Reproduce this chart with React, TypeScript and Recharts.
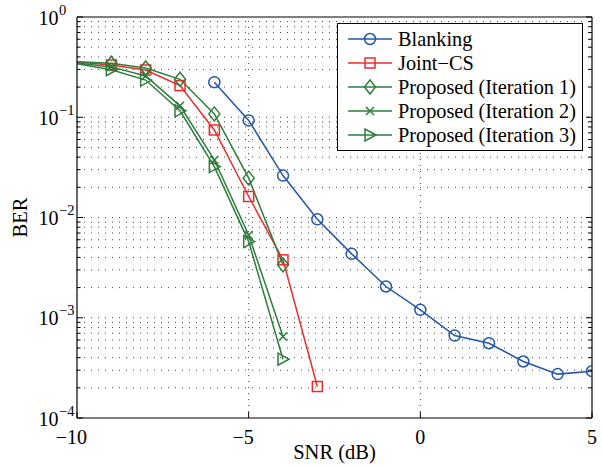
import { LineChart, Line, XAxis, YAxis, ReferenceLine, Legend, Label } from 'recharts'

const FONT = "'Liberation Serif', 'DejaVu Serif', 'Times New Roman', serif"
const BLUE = '#2456a8'
const RED = '#f02a2a'
const GREEN = '#2e7d3b'

// SNR (dB) points of each curve (the -11 points sit just outside the axis and get clipped)
const snrBlanking = [-6, -5, -4, -3, -2, -1, 0, 1, 2, 3, 4, 5]
const snrJoint = [-11, -9, -8, -7, -6, -5, -4, -3]
const snrProposed = [-11, -9, -8, -7, -6, -5, -4]

// BER values
const berBlanking = [0.224, 0.093, 0.0262, 0.0096, 0.00434, 0.00205, 0.0012, 0.000664, 0.000557, 0.000366, 0.000274, 0.000293]
const berJoint = [0.38, 0.332, 0.296, 0.207, 0.0747, 0.0162, 0.00378, 0.000206]
const berIter1 = [0.37, 0.345, 0.31, 0.239, 0.108, 0.0247, 0.00337]
const berIter2 = [0.38, 0.318, 0.258, 0.13, 0.0375, 0.0067, 0.00065]
const berIter3 = [0.39, 0.298, 0.235, 0.116, 0.0322, 0.00575, 0.000386]

const xTicks = [-10, -5, 0, 5]
const xGrid = [-5, 0]
const yDecades = [1e-4, 1e-3, 1e-2, 1e-1]
const yMantissas = [1, 2, 3, 4, 5, 6, 7, 8, 9]
const yTicks = [...yDecades.flatMap((d) => yMantissas.map((m) => m * d)), 1]
const yGrid = yTicks.filter((v) => v > 1e-4 * 1.01 && v < 0.99)

type MarkerKind = 'circle' | 'square' | 'diamond' | 'x' | 'triangle'

const toPoints = (xs: number[], ys: number[]) => xs.map((x, i) => ({ x, y: ys[i] }))

const series: { name: string; color: string; marker: MarkerKind; data: { x: number; y: number }[] }[] = [
  { name: 'Blanking', color: BLUE, marker: 'circle', data: toPoints(snrBlanking, berBlanking) },
  { name: 'Joint\u2212CS', color: RED, marker: 'square', data: toPoints(snrJoint, berJoint) },
  { name: 'Proposed (Iteration 1)', color: GREEN, marker: 'diamond', data: toPoints(snrProposed, berIter1) },
  { name: 'Proposed (Iteration 2)', color: GREEN, marker: 'x', data: toPoints(snrProposed, berIter2) },
  { name: 'Proposed (Iteration 3)', color: GREEN, marker: 'triangle', data: toPoints(snrProposed, berIter3) },
]

const isDecade = (v: number) => Math.abs(Math.log10(v) - Math.round(Math.log10(v))) < 1e-6

function Marker({ kind, cx, cy, color }: { kind: MarkerKind; cx: number; cy: number; color: string }) {
  const common = { fill: 'none', stroke: color, strokeWidth: 1.5 }
  switch (kind) {
    case 'circle':
      return <circle cx={cx} cy={cy} r={5.5} {...common} />
    case 'square':
      return <rect x={cx - 5} y={cy - 5} width={10} height={10} {...common} />
    case 'diamond':
      return <polygon points={`${cx},${cy - 7} ${cx + 5.5},${cy} ${cx},${cy + 7} ${cx - 5.5},${cy}`} {...common} />
    case 'x':
      return <path d={`M${cx - 4},${cy - 4}L${cx + 4},${cy + 4}M${cx - 4},${cy + 4}L${cx + 4},${cy - 4}`} {...common} />
    case 'triangle':
      return <polygon points={`${cx + 6},${cy} ${cx - 5},${cy - 6} ${cx - 5},${cy + 6}`} {...common} />
  }
  return null
}

function splitMinus(v: number) {
  return { minus: v < 0, digits: String(Math.abs(v)) }
}

function XTickBottom(props: any) {
  const { x, y, payload } = props
  const { minus, digits } = splitMinus(payload.value)
  const half = digits.length * 5
  return (
    <g>
      <line x1={x} x2={x} y1={y} y2={y - 6} stroke="#000" />
      <text x={x} y={y + 26} textAnchor="middle" fontSize={20} fontFamily={FONT} fill="#000">
        {digits}
      </text>
      {minus && (
        <text x={x - half} y={y + 26} textAnchor="end" fontSize={20} fontFamily={FONT} fill="#000">
          {'\u2212'}
        </text>
      )}
    </g>
  )
}

function XTickTop(props: any) {
  const { x, y } = props
  return <line x1={x} x2={x} y1={y} y2={y + 6} stroke="#000" />
}

function YTickLeft(props: any) {
  const { x, y, payload } = props
  const v = payload.value as number
  const major = isDecade(v)
  const exp = Math.round(Math.log10(v))
  return (
    <g>
      <line x1={x} x2={x + (major ? 6 : 3.5)} y1={y} y2={y} stroke="#000" />
      {major && (
        <>
          <text x={x - 18.5} y={y + 7.7} textAnchor="end" fontSize={20} fontFamily={FONT} fill="#000">
            10
          </text>
          <text x={x - 18} y={y - 2.3} textAnchor="start" fontSize={14.5} fontFamily={FONT} fill="#000">
            {exp < 0 ? `\u2212${-exp}` : String(exp)}
          </text>
        </>
      )}
    </g>
  )
}

function YTickRight(props: any) {
  const { x, y, payload } = props
  const major = isDecade(payload.value)
  return <line x1={x} x2={x - (major ? 6 : 3.5)} y1={y} y2={y} stroke="#000" />
}

function XTitle(props: any) {
  const vb = props.viewBox
  return (
    <text x={vb.x + vb.width / 2} y={vb.y + 40.5} textAnchor="middle" fontSize={20.5} fontFamily={FONT} fill="#000">
      SNR (dB)
    </text>
  )
}

function YTitle(props: any) {
  const vb = props.viewBox
  const cx = vb.x + 20
  const cy = vb.y + vb.height / 2
  return (
    <text x={cx} y={cy} transform={`rotate(-90 ${cx} ${cy})`} textAnchor="middle" dominantBaseline="central" fontSize={20.5} fontFamily={FONT} fill="#000">
      BER
    </text>
  )
}

function LegendBox() {
  return (
    <div
      style={{
        width: 244,
        height: 123,
        border: '1px solid #000',
        background: '#fff',
        fontFamily: FONT,
        fontSize: 20.3,
        color: '#000',
        boxSizing: 'content-box',
        paddingTop: 3,
      }}
    >
      {series.map((s) => (
        <div key={s.name} style={{ display: 'flex', alignItems: 'center', height: 24, lineHeight: '24px' }}>
          <svg width={60} height={24} style={{ flex: 'none' }}>
            <line x1={10} x2={54} y1={12} y2={12} stroke={s.color} strokeWidth={1.5} />
            <Marker kind={s.marker} cx={32} cy={12} color={s.color} />
          </svg>
          <span style={{ whiteSpace: 'nowrap' }}>{s.name}</span>
        </div>
      ))}
    </div>
  )
}

export default function App() {
  return (
    <div style={{ position: 'absolute', left: 0, top: 0, width: 603, height: 468, background: '#fff', fontFamily: FONT }}>
      <LineChart width={603} height={468} margin={{ top: 16, right: 10, bottom: 0, left: 0 }} style={{ fontFamily: FONT }}>
        <XAxis
          xAxisId="b"
          dataKey="x"
          type="number"
          domain={[-10, 5]}
          ticks={xTicks}
          interval={0}
          allowDataOverflow
          height={50}
          tickSize={0}
          tickMargin={0}
          tickLine={false}
          axisLine={{ stroke: '#000', strokeWidth: 1.2 }}
          tick={XTickBottom}
        >
          <Label content={XTitle} />
        </XAxis>
        <XAxis
          xAxisId="t"
          orientation="top"
          type="number"
          domain={[-10, 5]}
          ticks={xTicks}
          interval={0}
          allowDataOverflow
          height={1}
          tickSize={0}
          tickMargin={0}
          tickLine={false}
          axisLine={{ stroke: '#000', strokeWidth: 1.2 }}
          tick={XTickTop}
        />
        <YAxis
          yAxisId="l"
          type="number"
          scale="log"
          domain={[1e-4, 1]}
          ticks={yTicks}
          interval={0}
          allowDataOverflow
          width={77}
          tickSize={0}
          tickMargin={0}
          tickLine={false}
          axisLine={{ stroke: '#000', strokeWidth: 1.2 }}
          tick={YTickLeft}
        >
          <Label content={YTitle} />
        </YAxis>
        <YAxis
          yAxisId="r"
          orientation="right"
          type="number"
          scale="log"
          domain={[1e-4, 1]}
          ticks={yTicks}
          interval={0}
          allowDataOverflow
          width={1}
          tickSize={0}
          tickMargin={0}
          tickLine={false}
          axisLine={{ stroke: '#000', strokeWidth: 1.2 }}
          tick={YTickRight}
        />
        {yGrid.map((v) => (
          <ReferenceLine key={`gy${v}`} xAxisId="b" yAxisId="l" y={v} stroke="#444" strokeWidth={1} strokeDasharray="1 6" />
        ))}
        {xGrid.map((v) => (
          <ReferenceLine key={`gx${v}`} xAxisId="b" yAxisId="l" x={v} stroke="#444" strokeWidth={1} strokeDasharray="1 5" />
        ))}
        {series.map((s) => (
          <Line
            key={s.name}
            name={s.name}
            data={s.data}
            dataKey="y"
            xAxisId="b"
            yAxisId="l"
            type="linear"
            stroke={s.color}
            strokeWidth={1.5}
            dot={(p: any) => <Marker key={`${s.name}-${p.index}`} kind={s.marker} cx={p.cx} cy={p.cy} color={s.color} />}
            activeDot={false}
            isAnimationActive={false}
          />
        ))}
        <Legend
          layout="horizontal"
          verticalAlign="middle"
          align="center"
          content={() => <LegendBox />}
          wrapperStyle={{ left: 337, top: 23, width: 246 }}
        />
      </LineChart>
    </div>
  )
}
